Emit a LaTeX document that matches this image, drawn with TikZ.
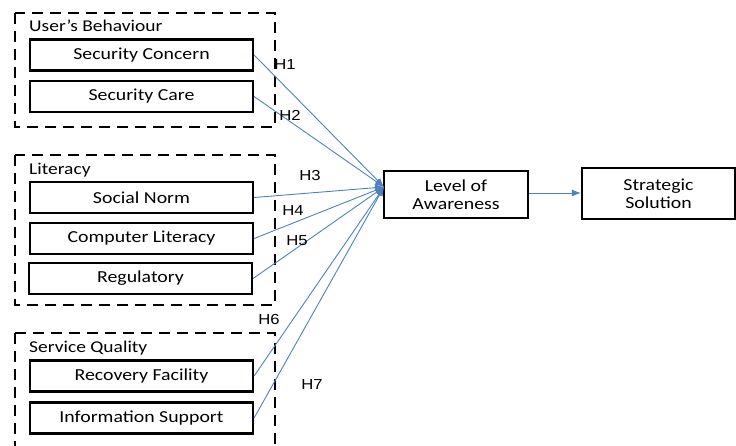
\documentclass[tikz,border=0pt]{standalone}
\usepackage{fontspec}
\setmainfont[FakeStretch=1.18]{Carlito}
\newfontfamily\hfont[FakeStretch=1.15]{Liberation Sans}
\usetikzlibrary{arrows.meta}
\definecolor{linkblue}{HTML}{4F81BD}
\begin{document}
\begin{tikzpicture}[x=1pt,y=-1pt,
  grp/.style={draw=black,line width=2.8pt,dash pattern=on 11pt off 7pt},
  item/.style={draw=black,line width=2.2pt,minimum width=223pt,minimum height=31pt,inner sep=0pt,font=\fontsize{16.8}{18}\selectfont},
  big/.style={draw=black,line width=2.2pt,inner sep=0pt,align=center,font=\fontsize{16.8}{18}\selectfont},
  glabel/.style={anchor=west,inner sep=0pt,font=\fontsize{16.5}{18}\selectfont},
  hlab/.style={inner sep=0pt,font=\hfont\fontsize{14.5}{16}\selectfont},
  link/.style={draw=linkblue,line width=0.9pt,-{Latex[length=9pt,width=7pt]}}]
\useasboundingbox (0,0) rectangle (736,446);
% groups
\draw[grp] (15,13) rectangle (275,127);
\draw[grp] (15,155) rectangle (275,305);
\draw[grp] (15,333) -- (275,333) -- (275,450);
\draw[grp] (15,333) -- (15,450);
\node[glabel] (g1) at (29,26) {User’s Behaviour};
\node[glabel] (g2) at (29,170) {Literacy};
\node[glabel] (g3) at (29,348) {Service Quality};
% items
\node[item] (sc) at (141.5,55) {Security Concern};
\node[item] (sca) at (141.5,96.5) {Security Care};
\node[item] (sn) at (141.5,197.5) {Social Norm};
\node[item] (cl) at (141.5,238.5) {Computer Literacy};
\node[item] (rg) at (140.5,278.5) {Regulatory};
\node[item] (rf) at (141.5,376) {Recovery Facility};
\node[item] (is) at (141.5,418) {Information Support};
% main boxes
\node[big,minimum width=144pt,minimum height=47pt] (la) at (456,194.5) {Level of\\Awareness};
\node[big,minimum width=153pt,minimum height=51pt] (ss) at (658.5,193.5) {Strategic\\Solution};
\coordinate (tip) at (384,187);
% links
\draw[link] (sc.east) -- (tip);
\draw[link] (sca.east) -- (tip);
\draw[link] (sn.east) -- (tip);
\draw[link] (cl.east) -- (tip);
\draw[link] (rg.east) -- (tip);
\draw[link] (rf.east) -- (tip);
\draw[link] (is.east) -- (tip);
\draw[link] (la.east |- 0,193) -- (ss.west |- 0,193);
% hypothesis labels
\node[hlab] (h1) at (285,65) {H1};
\node[hlab] (h2) at (290,115) {H2};
\node[hlab] (h3) at (310,176) {H3};
\node[hlab] (h4) at (293,211) {H4};
\node[hlab] (h5) at (297,241) {H5};
\node[hlab] (h6) at (269,320) {H6};
\node[hlab] (h7) at (312,385) {H7};
\end{tikzpicture}
\end{document}
